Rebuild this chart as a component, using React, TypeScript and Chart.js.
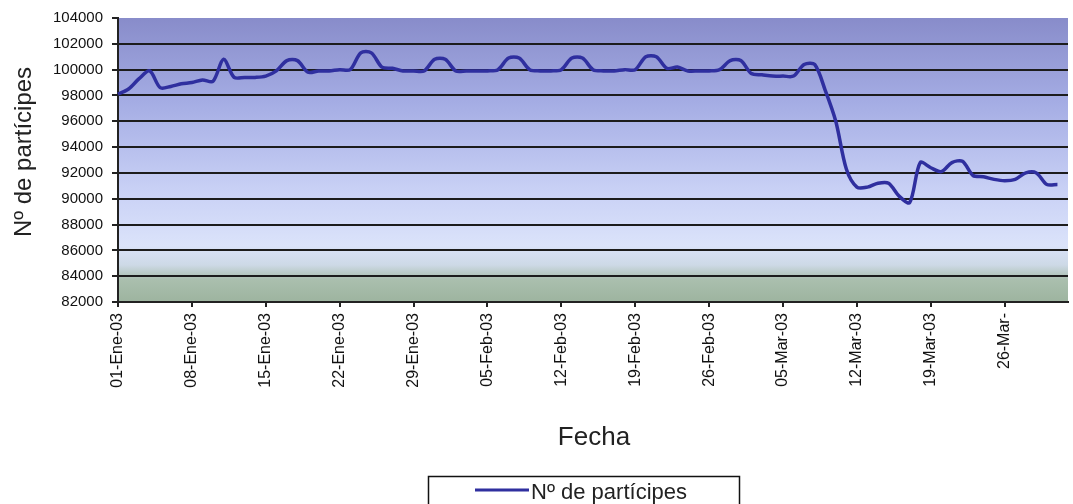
import React, { useEffect, useRef } from "react";
import { Chart, registerables } from "chart.js";

Chart.register(...registerables);

const FONT = "'Liberation Sans', Arial, Helvetica, sans-serif";

// Months of 2003 shown on the category axis (one category per day)
const monthNames: string[] = ["Ene", "Feb", "Mar", "Abr"];
const monthDays: number[] = [31, 28, 31, 1];

const categories: string[] = [];
monthNames.forEach((m, k) => {
  for (let d = 1; d <= monthDays[k]; d++) {
    categories.push(`${String(d).padStart(2, "0")}-${m}-03`);
  }
});

// Tick labels shown every 7 days
const tickLabels: string[] = [
  "01-Ene-03", "08-Ene-03", "15-Ene-03", "22-Ene-03", "29-Ene-03",
  "05-Feb-03", "12-Feb-03", "19-Feb-03", "26-Feb-03",
  "05-Mar-03", "12-Mar-03", "19-Mar-03", "26-Mar-",
];

// Nº de partícipes, daily (01-Ene-03 .. 31-Mar-03)
const participesEne: number[] = [
  98100, 98500, 99300, 99900, 98600, 98700, 98900, 99000, 99200, 99100,
  100800, 99400, 99400, 99400, 99500, 99900, 100700, 100700, 99800, 99900,
  99900, 100000, 100000, 101300, 101300, 100200, 100100, 99900, 99900, 99900,
  100800,
];
const participesFeb: number[] = [
  100800, 99900, 99900, 99900, 99900, 100000, 100900, 100900, 100000, 99900,
  99900, 100000, 100900, 100900, 100000, 99900, 99900, 100000, 100000, 101000,
  101000, 100100, 100200, 99900, 99900, 99900, 100000, 100700,
];
const participesMar: number[] = [
  100700, 99700, 99600, 99500, 99500, 99500, 100400, 100400, 98400, 96000,
  92300, 90900, 90900, 91200, 91200, 90200, 89700, 92800, 92400, 92100,
  92800, 92900, 91800, 91700, 91500, 91400, 91500, 92000, 92000, 91100,
  91100,
];
const participes: (number | null)[] = [...participesEne, ...participesFeb, ...participesMar, null];

const yMin = 82000;
const yMax = 104000;
const yStep = 2000;

const seriesName = "Nº de partícipes";
const xTitle = "Fecha";
const yTitle = "Nº de partícipes";
const lineColor = "#2f2f9f";

const decorPlugin = {
  id: "decor",
  beforeDraw(chart: any) {
    const { ctx, chartArea: a } = chart;
    ctx.save();
    const g = ctx.createLinearGradient(0, a.top, 0, a.bottom);
    g.addColorStop(0, "#888cca");
    g.addColorStop(0.3, "#a5ade4");
    g.addColorStop(0.6, "#c8d0f5");
    g.addColorStop(0.8, "#dbe3fa");
    g.addColorStop(0.87, "#cdd9e6");
    g.addColorStop(0.92, "#aabfae");
    g.addColorStop(1, "#9db49f");
    ctx.fillStyle = g;
    ctx.fillRect(a.left, a.top, a.right - a.left, a.bottom - a.top);
    ctx.restore();
  },
  afterDraw(chart: any) {
    const { ctx } = chart;
    ctx.save();
    // X axis title
    ctx.fillStyle = "#222";
    ctx.font = `26px ${FONT}`;
    ctx.textAlign = "center";
    ctx.textBaseline = "alphabetic";
    ctx.fillText(xTitle, 594, 445);
    // Y axis title
    ctx.save();
    ctx.translate(31, 152);
    ctx.rotate(-Math.PI / 2);
    ctx.font = `24px ${FONT}`;
    ctx.textAlign = "center";
    ctx.fillText(yTitle, 0, 0);
    ctx.restore();
    // Legend
    ctx.strokeStyle = "#111";
    ctx.lineWidth = 1.5;
    ctx.strokeRect(428.5, 476.5, 311, 40);
    ctx.strokeStyle = lineColor;
    ctx.lineWidth = 3;
    ctx.beginPath();
    ctx.moveTo(475, 490);
    ctx.lineTo(529, 490);
    ctx.stroke();
    ctx.fillStyle = "#222";
    ctx.font = `22px ${FONT}`;
    ctx.textAlign = "left";
    ctx.fillText(seriesName, 531, 499);
    ctx.restore();
  },
};

export default function App() {
  const ref = useRef<HTMLCanvasElement | null>(null);

  useEffect(() => {
    document.body.style.margin = "0";
    const canvas = ref.current;
    if (!canvas) return;
    const chart = new Chart(canvas, {
      type: "line",
      data: {
        labels: categories,
        datasets: [
          {
            label: seriesName,
            data: participes,
            borderColor: lineColor,
            backgroundColor: lineColor,
            borderWidth: 3.5,
            pointRadius: 0,
            tension: 0.3,
            fill: false,
          },
        ],
      },
      options: {
        animation: false,
        responsive: false,
        maintainAspectRatio: false,
        layout: { padding: { top: 18, right: 5, left: 0, bottom: 0 } },
        plugins: {
          legend: { display: false },
          tooltip: { enabled: false },
          title: { display: false },
        },
        scales: {
          x: {
            type: "category",
            afterBuildTicks: (axis: any) => {
              axis.ticks = axis.ticks.filter((t: any) => t.value % 7 === 0);
            },
            afterFit: (scale: any) => {
              scale.height = 504 - 302;
              scale.paddingLeft = 0;
              scale.paddingRight = 0;
            },
            ticks: {
              autoSkip: false,
              minRotation: 90,
              maxRotation: 90,
              padding: 6,
              color: "#111",
              font: { family: FONT, size: 16 },
              callback: (value: any) => tickLabels[Math.round(Number(value) / 7)] ?? "",
            },
            grid: {
              drawOnChartArea: false,
              drawTicks: true,
              tickLength: 5,
              color: "#222",
              lineWidth: 2,
            },
            border: { display: true, color: "#222", width: 2 },
          },
          y: {
            min: yMin,
            max: yMax,
            afterFit: (scale: any) => {
              scale.width = 118;
            },
            ticks: {
              stepSize: yStep,
              padding: 9,
              color: "#111",
              font: { family: FONT, size: 15 },
              callback: (v: any) => String(v),
            },
            grid: {
              color: (c: any) => (c.tick && c.tick.value === yMax ? "rgba(0,0,0,0)" : "#1c1c1c"),
              lineWidth: 2,
              tickLength: 6,
              tickColor: "#222",
              tickWidth: 2,
            },
            border: { display: true, color: "#222", width: 2 },
          },
        },
      },
      plugins: [decorPlugin],
    });
    return () => chart.destroy();
  }, []);

  return (
    <div style={{ width: 1073, height: 504, position: "relative" }}>
      <canvas ref={ref} width={1073} height={504} style={{ display: "block", width: 1073, height: 504 }} />
    </div>
  );
}
